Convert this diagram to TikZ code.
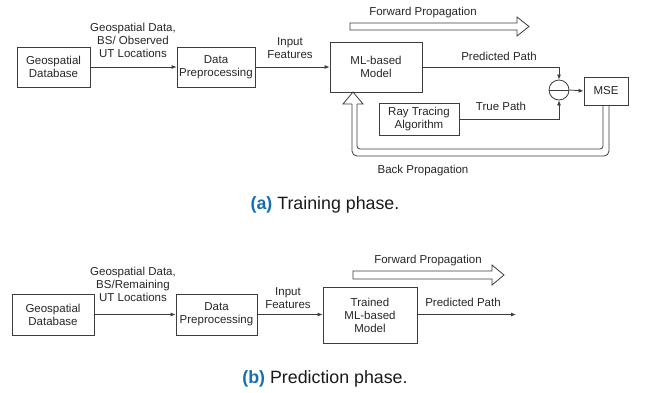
\documentclass[tikz,border=0pt]{standalone}
\usepackage{fontspec}
\setmainfont{Liberation Sans}
\usetikzlibrary{arrows.meta,shapes.geometric}
\definecolor{capblue}{RGB}{20,110,180}
\definecolor{ln}{RGB}{60,60,60}
\begin{document}
\begin{tikzpicture}[x=1pt,y=-1pt,
  every node/.style={font=\fontsize{11.5}{13}\selectfont, text=black!85},
  box/.style={draw=ln, line width=0.8pt, inner sep=0pt, align=center},
  lbl/.style={align=center, inner sep=0pt},
  conn/.style={draw=ln, line width=0.8pt, -{Latex[length=5pt,width=4pt]}},
  hollow/.style={draw=ln, line width=0.8pt, fill=white},
  captext/.style={font=\fontsize{17.8}{20}\selectfont, text=black!90}
]
\useasboundingbox (0,0) rectangle (647,392);
% ---------- (a) ----------
\node[box, minimum width=73, minimum height=40] (db1) at (53.5,67) {Geospatial\\Database};
\node[box, minimum width=78, minimum height=40] (dp1) at (216,67) {Data\\Preprocessing};
\node[box, minimum width=92, minimum height=50] (ml1) at (376,67) {ML-based\\Model};
\node[box, minimum width=80, minimum height=32] (rt1) at (419,119) {Ray Tracing\\Algorithm};
\node[box, minimum width=44, minimum height=28] (mse) at (606,91) {MSE};
\node[circle, draw=ln, line width=0.8pt, minimum size=20, inner sep=0pt] (sub) at (559,90) {};
\draw[ln, line width=0.8pt] (sub.west) -- (sub.east);

\node[lbl] (l1) at (133,40) {Geospatial Data,\\BS/ Observed\\UT Locations};
\node[lbl] (l2) at (290,48.5) {Input\\Features};
\node[lbl] (l3) at (499,56) {Predicted Path};
\node[lbl] (l4) at (501,106) {True Path};
\node[lbl] (l5) at (423,13) {Forward Propagation};
\node[lbl] (l6) at (423,171) {Back Propagation};

\draw[conn] (db1.east) -- (dp1.west);
\draw[conn] (dp1.east) -- (ml1.west);
\draw[conn] (ml1.east) -| (sub.north);
\draw[conn] (rt1.east) -| (sub.south);
\draw[conn] (sub.east) -- (mse.west);

% forward propagation hollow arrow (a)
\draw[hollow] (350,23) -- (517,23) -- (517,17) -- (529,26.5) -- (517,36) -- (517,30) -- (350,30) -- cycle;

% back propagation hollow arrow
\draw[ln, line width=0.8pt, rounded corners=5] (609,105) -- (609,156) -- (352,156) -- (352,104);
\draw[ln, line width=0.8pt, rounded corners=3] (603,105) -- (603,149) -- (357,149) -- (357,104);
\draw[ln, line width=0.8pt, line join=miter] (352,104) -- (343,104) -- (353,92) -- (363,104) -- (357,104);

\node[captext] (capa) at (325,205) {\textcolor{capblue}{\bfseries (a)} Training phase.};

% ---------- (b) ----------
\node[box, minimum width=82, minimum height=41] (db2) at (53,314.5) {Geospatial\\Database};
\node[box, minimum width=81, minimum height=41] (dp2) at (216.5,314.5) {Data\\Preprocessing};
\node[box, minimum width=94, minimum height=56] (ml2) at (370,315) {Trained\\ML-based\\Model};
\coordinate (end2) at (516,314.5);

\node[lbl] (m1) at (133,284) {Geospatial Data,\\BS/Remaining\\UT Locations};
\node[lbl] (m2) at (288,298) {Input\\Features};
\node[lbl] (m3) at (463,302) {Predicted Path};
\node[lbl] (m4) at (428,261) {Forward Propagation};

\draw[conn] (db2.east) -- (dp2.west);
\draw[conn] (dp2.east) -- (dp2.east -| ml2.west);
\draw[conn] (ml2.east |- end2) -- (end2);

\draw[hollow] (353,271) -- (492,271) -- (492,265) -- (504,275) -- (492,285) -- (492,279) -- (353,279) -- cycle;

\node[captext] (capb) at (325,379) {\textcolor{capblue}{\bfseries (b)} Prediction phase.};
\end{tikzpicture}
\end{document}
